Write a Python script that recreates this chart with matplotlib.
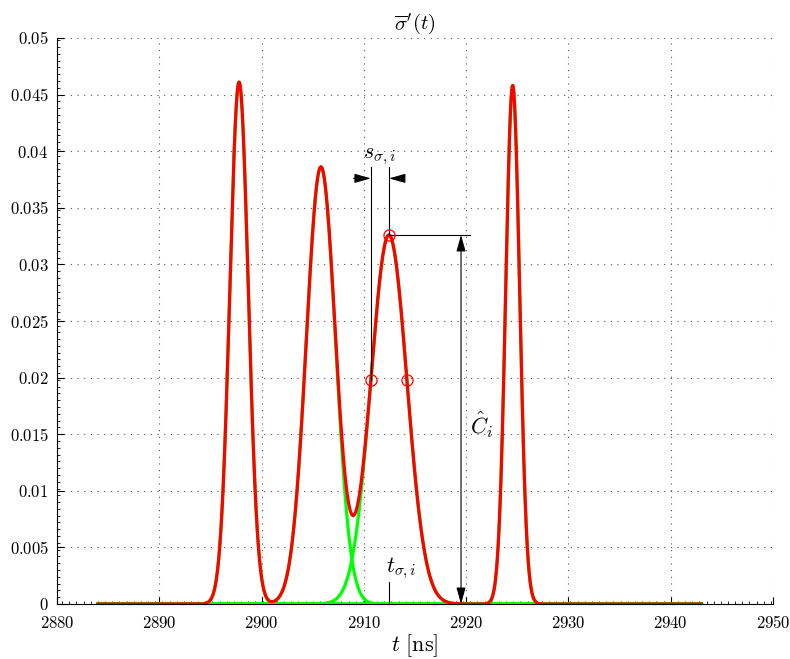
import numpy as np
import matplotlib
matplotlib.use("Agg")
import matplotlib.pyplot as plt
from matplotlib.ticker import FuncFormatter, MultipleLocator

plt.rcParams['mathtext.fontset'] = 'cm'
plt.rcParams['font.family'] = ['DejaVu Serif']

# Gaussian components
centers = [2897.8, 2905.8, 2912.45, 2924.55]
heights = [0.0461, 0.0386, 0.0326, 0.0458]
sigmas = [0.9, 1.42, 1.76, 0.68]
t_start, t_end = 2884.0, 2943.0
sel = 2  # annotated component

x_ticks = [2880, 2890, 2900, 2910, 2920, 2930, 2940, 2950]
y_ticks = [0, 0.005, 0.01, 0.015, 0.02, 0.025, 0.03, 0.035, 0.04, 0.045, 0.05]

t = np.linspace(t_start, t_end, 4000)
comps = [h * np.exp(-(t - c) ** 2 / (2 * s ** 2)) for c, h, s in zip(centers, heights, sigmas)]
total = np.sum(comps, axis=0)

fig = plt.figure(figsize=(7.9, 6.59), dpi=100)
ax = fig.add_axes([57 / 790, 55 / 659, 716 / 790, 566 / 659])

for comp in comps:
    ax.plot(t, comp, color=(0, 1, 0), lw=2.3, zorder=3)
ax.plot(t, total, color=(1, 0, 0), lw=2.3, zorder=4)

ax.set_xlim(2880, 2950)
ax.set_ylim(0, 0.05)
ax.set_xticks(x_ticks)
ax.set_yticks(y_ticks)
fmt = FuncFormatter(lambda v, p: r'$%g$' % v)
ax.xaxis.set_major_formatter(fmt)
ax.yaxis.set_major_formatter(fmt)
ax.xaxis.set_minor_locator(MultipleLocator(0.7))
ax.yaxis.set_minor_locator(MultipleLocator(0.0006))
ax.tick_params(which='major', direction='in', length=5, width=0.8, labelsize=12)
ax.tick_params(which='minor', direction='in', length=2, width=0.6)
ax.tick_params(axis='x', pad=8)
ax.tick_params(axis='y', pad=6)
for s in ['top', 'right']:
    ax.spines[s].set_visible(False)
ax.grid(True, which='major', color='#555555', linestyle=(0, (1, 5)), lw=0.8)

# annotations
c, h, s = centers[sel], heights[sel], sigmas[sel]
hv = h * np.exp(-0.5)
ax.plot([c - s, c, c + s], [hv, h, hv], 'o', mfc='none', mec='red', ms=8, mew=0.9, zorder=6)

ytop = 0.0386
ax.plot([c - s, c - s], [hv, ytop], color='k', lw=0.8, zorder=5)
ax.plot([c, c], [h, ytop], color='k', lw=0.8, zorder=5)
ya = 0.0376
ap = dict(arrowstyle='-|>,head_length=1.0,head_width=0.28', color='k', lw=0.8, shrinkA=0, shrinkB=0)
ax.annotate('', xy=(c - s, ya), xytext=(c - s - 1.7, ya), arrowprops=ap, zorder=5)
ax.annotate('', xy=(c, ya), xytext=(c + 1.5, ya), arrowprops=ap, zorder=5)
ax.text(c - s / 2, 0.0386, r'$s_{\sigma,i}$', fontsize=16, ha='center', va='bottom')

xr = 2920.4
xa = 2919.5
ax.plot([c, xr], [h, h], color='k', lw=0.8, zorder=5)
ap2 = dict(arrowstyle='<|-|>,head_length=1.0,head_width=0.28', color='k', lw=0.8, shrinkA=0, shrinkB=0)
ax.annotate('', xy=(xa, 0), xytext=(xa, h), arrowprops=ap2, zorder=5)
ax.text(xa + 0.9, 0.0158, r'$\hat{C}_i$', fontsize=16, ha='left', va='center')

ax.plot([c, c], [0, 0.0019], color='k', lw=0.8, zorder=5)
ax.text(c - 0.3, 0.0020, r'$t_{\sigma,i}$', fontsize=16, ha='left', va='bottom')

ax.set_title(r"$\overline{\sigma}'(t)$", fontsize=15, pad=6)
ax.set_xlabel(r'$t\ [\mathrm{ns}]$', fontsize=16, labelpad=0)

fig.savefig('out.png', dpi=100)
